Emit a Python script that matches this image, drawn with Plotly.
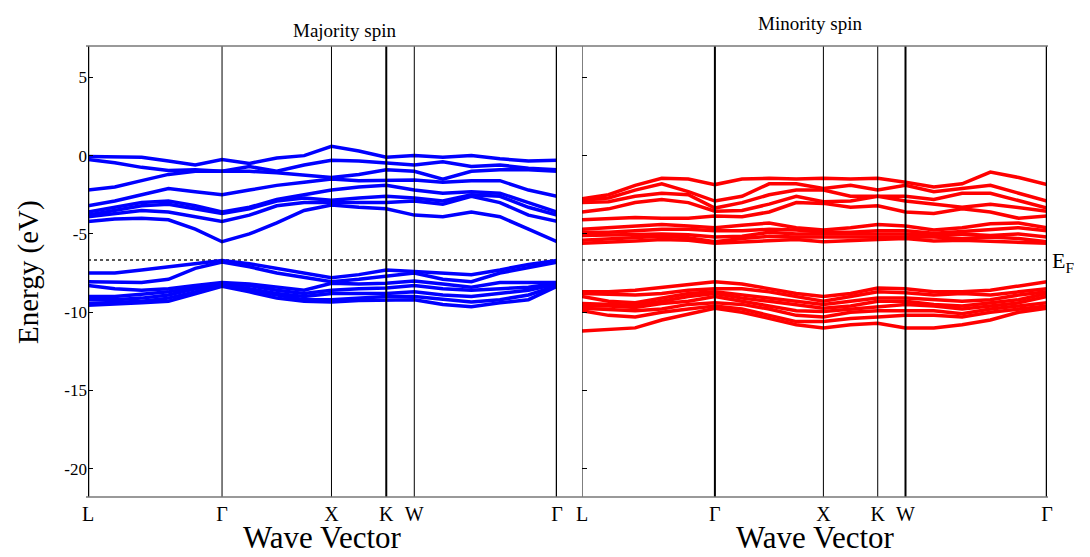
import plotly.graph_objects as go

# ---------------- data ----------------
SYM_LABELS = ["L", "Γ", "X", "K", "W", "Γ"]
SYM_K = [0.0, 0.866, 1.573, 1.927, 2.108, 3.030]
SEG_NODES = [5, 4, 2, 1, 5]          # intervals per path segment
E_FERMI = -6.67

# node k positions (18 nodes along L-Γ-X-K-W-Γ)
K_NODES = []
for i, n in enumerate(SEG_NODES):
    a, b = SYM_K[i], SYM_K[i + 1]
    for j in range(n):
        K_NODES.append(a + (b - a) * j / n)
K_NODES.append(SYM_K[-1])

# Majority spin: energies per node (rows = nodes, columns = bands)
MAJ_UPPER = [
    [-0.05, -0.25, -2.2, -3.2, -3.6, -3.8, -3.9, -4.2],
    [-0.05, -0.45, -2.0, -2.9, -3.3, -3.5, -3.7, -4.05],
    [-0.1, -0.75, -1.6, -2.5, -3.0, -3.2, -3.5, -4.0],
    [-0.35, -0.95, -1.2, -2.1, -2.9, -3.1, -3.6, -4.1],
    [-0.6, -0.9, -1.0, -2.3, -3.2, -3.4, -3.9, -4.7],
    [-0.25, -1.0, -1.0, -2.5, -3.6, -3.7, -4.2, -5.5],
    [-0.5, -0.7, -1.0, -2.2, -3.3, -3.4, -3.8, -5.0],
    [-0.15, -1.0, -1.1, -1.9, -2.8, -2.9, -3.2, -4.3],
    [0.0, -0.6, -1.25, -1.7, -2.5, -2.7, -3.0, -3.5],
    [0.6, -0.3, -1.4, -1.5, -2.2, -2.85, -3.0, -3.15],
    [0.3, -0.35, -1.2, -1.6, -2.0, -2.7, -3.0, -3.3],
    [-0.1, -0.5, -0.9, -1.55, -1.9, -2.6, -3.0, -3.4],
    [0.0, -0.6, -1.0, -1.55, -2.2, -2.7, -2.9, -3.8],
    [-0.1, -0.4, -1.5, -1.7, -2.4, -2.9, -3.1, -3.9],
    [0.0, -0.7, -1.0, -1.6, -2.3, -2.5, -2.6, -3.6],
    [-0.2, -0.6, -0.9, -1.6, -2.4, -2.6, -3.0, -3.9],
    [-0.35, -0.8, -0.9, -2.2, -3.0, -3.3, -3.8, -4.7],
    [-0.3, -0.9, -1.0, -2.6, -3.6, -3.8, -4.2, -5.5],
]
MAJ_LOWER = [
    [-7.5, -8.05, -8.3, -9.0, -9.2, -9.45, -9.55],
    [-7.5, -8.1, -8.5, -9.0, -9.2, -9.4, -9.5],
    [-7.3, -8.1, -8.6, -8.85, -9.1, -9.3, -9.4],
    [-7.1, -7.9, -8.5, -8.7, -8.9, -9.1, -9.3],
    [-6.85, -7.2, -8.3, -8.4, -8.5, -8.7, -8.8],
    [-6.7, -6.8, -8.1, -8.15, -8.2, -8.3, -8.35],
    [-6.9, -7.1, -8.2, -8.3, -8.5, -8.6, -8.7],
    [-7.2, -7.5, -8.4, -8.6, -8.8, -8.9, -9.1],
    [-7.5, -7.8, -8.6, -8.8, -9.0, -9.2, -9.3],
    [-7.8, -8.05, -8.15, -8.6, -8.8, -9.2, -9.35],
    [-7.6, -7.9, -8.2, -8.5, -8.8, -9.1, -9.25],
    [-7.3, -7.7, -8.15, -8.45, -8.8, -9.0, -9.2],
    [-7.4, -7.5, -8.0, -8.3, -8.7, -9.0, -9.2],
    [-7.5, -7.9, -8.2, -8.5, -8.9, -9.2, -9.5],
    [-7.6, -8.05, -8.4, -8.6, -9.0, -9.35, -9.65],
    [-7.3, -7.5, -8.1, -8.5, -8.8, -9.2, -9.4],
    [-6.95, -7.15, -8.1, -8.4, -8.6, -8.9, -9.2],
    [-6.7, -6.8, -8.1, -8.15, -8.2, -8.3, -8.35],
]

# Minority spin
MIN_UPPER = [
    [-2.75, -2.85, -3.0, -3.6, -4.1, -4.7, -4.9, -5.1, -5.4, -5.6],
    [-2.5, -2.7, -2.95, -3.4, -4.0, -4.6, -4.9, -5.05, -5.3, -5.55],
    [-1.9, -2.2, -2.6, -3.0, -3.95, -4.55, -4.8, -5.0, -5.2, -5.45],
    [-1.45, -1.8, -2.4, -2.8, -4.0, -4.4, -4.7, -5.0, -5.15, -5.35],
    [-1.5, -2.3, -2.5, -3.0, -4.0, -4.5, -4.7, -5.05, -5.25, -5.4],
    [-1.85, -2.9, -3.35, -3.55, -3.85, -4.6, -4.8, -5.2, -5.5, -5.6],
    [-1.5, -2.6, -3.0, -3.5, -3.9, -4.45, -4.8, -5.15, -5.3, -5.5],
    [-1.45, -1.8, -2.5, -3.1, -3.6, -4.3, -4.7, -4.9, -5.15, -5.4],
    [-1.5, -1.8, -2.2, -2.6, -3.0, -4.6, -4.75, -5.0, -5.2, -5.35],
    [-1.45, -2.1, -2.2, -2.95, -3.05, -4.75, -4.9, -5.0, -5.2, -5.5],
    [-1.5, -1.9, -2.6, -2.9, -3.3, -4.6, -4.9, -5.05, -5.2, -5.4],
    [-1.45, -2.2, -2.6, -2.6, -3.2, -4.4, -4.8, -5.0, -5.2, -5.35],
    [-1.7, -1.9, -2.6, -2.9, -3.6, -4.5, -4.8, -5.0, -5.15, -5.3],
    [-2.0, -2.3, -2.8, -3.1, -3.7, -4.75, -4.95, -5.1, -5.2, -5.45],
    [-1.8, -2.1, -2.4, -3.3, -3.4, -4.6, -4.85, -5.0, -5.3, -5.4],
    [-1.05, -1.9, -2.4, -3.1, -3.6, -4.35, -4.7, -5.1, -5.2, -5.45],
    [-1.4, -2.4, -2.9, -3.3, -4.0, -4.3, -4.6, -5.0, -5.3, -5.5],
    [-1.85, -2.9, -3.35, -3.55, -3.85, -4.6, -4.8, -5.2, -5.5, -5.6],
]
MIN_LOWER = [
    [-8.7, -8.8, -9.0, -9.45, -9.6, -9.75, -9.9, -11.2],
    [-8.7, -8.85, -9.3, -9.5, -9.6, -9.8, -10.2, -11.1],
    [-8.6, -8.9, -9.4, -9.55, -9.7, -9.9, -10.3, -11.0],
    [-8.4, -8.8, -9.1, -9.3, -9.45, -9.8, -10.0, -10.5],
    [-8.2, -8.6, -8.8, -9.0, -9.3, -9.5, -9.8, -10.1],
    [-8.05, -8.5, -8.7, -8.8, -9.0, -9.4, -9.6, -9.75],
    [-8.2, -8.5, -8.9, -9.1, -9.3, -9.5, -9.8, -10.0],
    [-8.5, -8.7, -9.1, -9.3, -9.6, -9.8, -10.2, -10.4],
    [-8.8, -9.0, -9.3, -9.5, -9.9, -10.2, -10.6, -10.8],
    [-9.0, -9.3, -9.5, -9.75, -9.95, -10.3, -10.6, -11.0],
    [-8.8, -9.0, -9.3, -9.6, -9.8, -10.0, -10.4, -10.8],
    [-8.45, -8.7, -9.1, -9.3, -9.7, -9.9, -10.3, -10.7],
    [-8.5, -8.75, -9.1, -9.3, -9.5, -9.9, -10.2, -11.0],
    [-8.7, -8.9, -9.2, -9.5, -9.6, -9.9, -10.2, -11.0],
    [-8.7, -8.8, -9.3, -9.6, -9.8, -10.1, -10.3, -10.8],
    [-8.6, -8.9, -9.2, -9.4, -9.6, -9.8, -10.0, -10.5],
    [-8.3, -8.7, -8.9, -9.2, -9.4, -9.6, -9.8, -10.0],
    [-8.05, -8.5, -8.7, -8.8, -9.0, -9.4, -9.6, -9.75],
]

Y_TICKS = [-20, -15, -10, -5, 0, 5]
Y_TICKTEXT = ["-20", "-15", "-10", "-5", "0", "5"]
Y_RANGE = [-21.8, 7.0]

# ---------------- figure ----------------
W, H = 1090, 557
MT, MB = 46, 60
SERIF = "Liberation Serif, Times New Roman, serif"
fig = go.Figure()


def py(ypx):
    """pixel row -> paper y (paper spans the plot area between margins)"""
    return (H - MB - ypx) / (H - MT - MB)


def add_bands(table, color, xa, ya):
    nb = len(table[0])
    for b in range(nb):
        fig.add_trace(go.Scatter(
            x=K_NODES, y=[row[b] for row in table], mode="lines",
            line=dict(color=color, width=3.5), xaxis=xa, yaxis=ya,
            showlegend=False, hoverinfo="skip"))


for xa, ya in (("x", "y"), ("x2", "y2")):
    fig.add_trace(go.Scatter(
        x=[SYM_K[0], SYM_K[-1]], y=[E_FERMI, E_FERMI], mode="lines",
        line=dict(color="#555555", width=2, dash="dot"),
        xaxis=xa, yaxis=ya, showlegend=False, hoverinfo="skip"))

add_bands(MAJ_UPPER, "#0000ff", "x", "y")
add_bands(MAJ_LOWER, "#0000ff", "x", "y")
add_bands(MIN_UPPER, "#ff0000", "x2", "y2")
add_bands(MIN_LOWER, "#ff0000", "x2", "y2")

# high symmetry vertical lines
left_w = [2.5, 1, 1, 2, 1, 2.5]
right_w = [1, 2, 1, 1, 2, 2.5]
shapes = []
for k, wl, wr in zip(SYM_K, left_w, right_w):
    shapes.append(dict(type="line", xref="x", yref="y domain", x0=k, x1=k,
                       y0=0, y1=1, line=dict(color="black", width=wl), layer="above"))
    shapes.append(dict(type="line", xref="x2", yref="y2 domain", x0=k, x1=k,
                       y0=0, y1=1, line=dict(color="black", width=wr), layer="above"))
# top / bottom frame lines
for yv in (0, 1):
    shapes.append(dict(type="line", xref="paper", yref="y domain",
                       x0=86 / W, x1=1048 / W, y0=yv, y1=yv,
                       line=dict(color="#777777", width=1.5)))

xl0, xl1 = 88 / W, 557 / W
xr0, xr1 = 582 / W, 1047 / W

axis_common_x = dict(range=[SYM_K[0], SYM_K[-1]], tickvals=SYM_K, ticktext=SYM_LABELS,
                     showgrid=False, zeroline=False, showline=False, ticks="",
                     automargin=False,
                     tickfont=dict(family=SERIF, size=20, color="black"),
                     ticklabelstandoff=3)
axis_common_y = dict(range=Y_RANGE, tickvals=Y_TICKS, ticktext=Y_TICKTEXT,
                     showgrid=False, zeroline=False, automargin=False,
                     showline=False, ticks="inside", ticklen=5, tickcolor="black",
                     tickfont=dict(family=SERIF, size=17, color="black"))


def ann(text, xpx, ypx, size, **kw):
    d = dict(text=text, x=xpx / W, y=py(ypx), xref="paper", yref="paper",
             xanchor="center", yanchor="middle", showarrow=False,
             font=dict(family=SERIF, size=size, color="black"))
    d.update(kw)
    return d


fig.update_layout(
    width=W, height=H, paper_bgcolor="white", plot_bgcolor="white",
    margin=dict(l=0, r=0, t=MT, b=MB, autoexpand=False),
    xaxis=dict(domain=[xl0, xl1], anchor="y", **axis_common_x),
    xaxis2=dict(domain=[xr0, xr1], anchor="y2", **axis_common_x),
    yaxis=dict(anchor="x", **axis_common_y),
    yaxis2=dict(anchor="x2", showticklabels=False, **axis_common_y),
    shapes=shapes,
    annotations=[
        ann("Majority spin", 344, 30, 19),
        ann("Minority spin", 810, 24, 19),
        ann("Wave Vector", 322, 537, 31),
        ann("Wave Vector", 815, 537, 31),
        ann("Energy (eV)", 28, 272, 29, textangle=-90),
        ann("E<sub>F</sub>", 1050, 262, 22, xanchor="left"),
    ],
)

fig.write_html("out.html")
